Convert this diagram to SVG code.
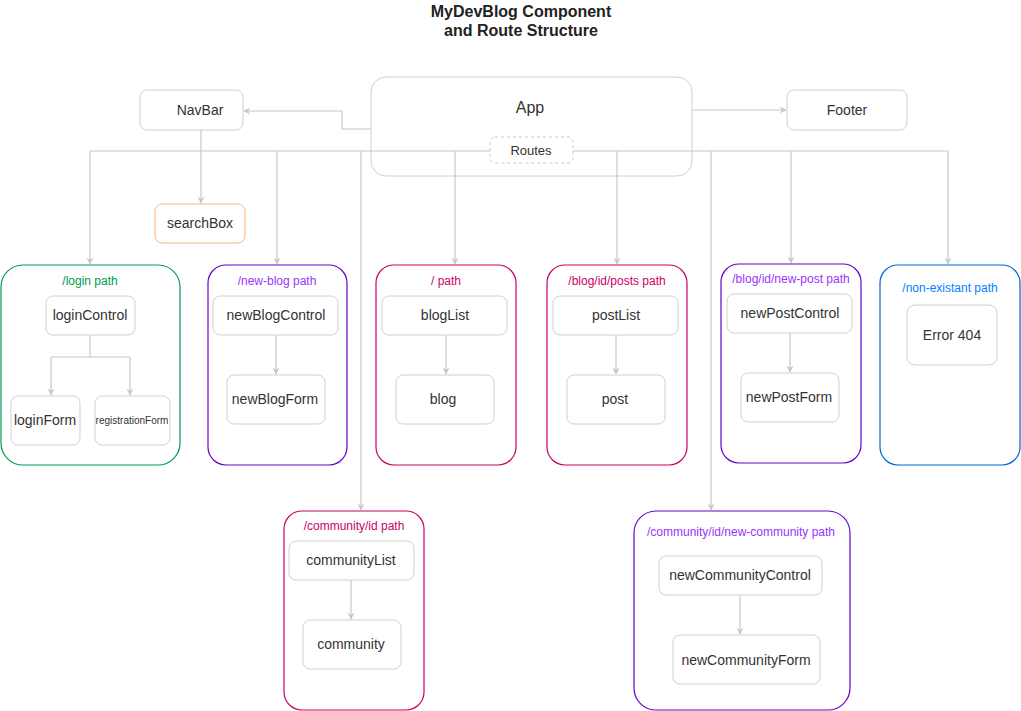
<svg xmlns="http://www.w3.org/2000/svg" width="1021" height="711" viewBox="0 0 1021 711">
<defs>
<marker id="arr" viewBox="0 0 10 10" refX="9" refY="5" markerWidth="7" markerHeight="7" markerUnits="userSpaceOnUse" orient="auto">
<path d="M0,0 L10,5 L0,10 L3,5 z" fill="#c8c8c8"/>
</marker>
<style>
text{font-family:"Liberation Sans",Arial,sans-serif;fill:#333;text-anchor:middle;dominant-baseline:central}
.node{fill:#fff;stroke:#d0d0d0;stroke-width:1}
.n{font-size:14px}
.lbl{font-size:12px}
.title{font-size:16px;font-weight:bold;fill:#222}
.conn{fill:none;stroke:#c8c8c8;stroke-width:1.2}
.arr{marker-end:url(#arr)}
.grp{fill:none;stroke-width:1.2}
</style>
</defs>
<rect width="1021" height="711" fill="#fff"/>
<g id="title">
<text class="title" x="521" y="11">MyDevBlog Component</text>
<text class="title" x="521" y="30">and Route Structure</text>
</g>
<g id="app">
<rect class="node" x="371" y="77" width="321" height="99" rx="15"/>
<text class="n" x="530" y="107" style="font-size:16px">App</text>
</g>
<g id="navbar">
<rect class="node" x="140" y="90" width="103" height="40" rx="7"/>
<text class="n" x="200" y="110">NavBar</text>
</g>
<g id="footer">
<rect class="node" x="787" y="90" width="120" height="40" rx="7"/>
<text class="n" x="847" y="110">Footer</text>
</g>
<g id="searchbox">
<rect x="155" y="204" width="90" height="39" rx="7" fill="#fff" stroke="#ffb570"/>
<text class="n" x="200" y="223">searchBox</text>
</g>
<g id="connectors">
<path class="conn arr" d="M371,129 H342 V111 H244"/>
<path class="conn arr" d="M692,110 H786"/>
<path class="conn" d="M490,151 H90 M573,151 H948"/>
<path class="conn arr" d="M90,151 V264"/>
<path class="conn arr" d="M201,130 V203"/>
<path class="conn arr" d="M277,151 V264"/>
<path class="conn arr" d="M361,151 V510"/>
<path class="conn arr" d="M455,151 V264"/>
<path class="conn arr" d="M617,151 V264"/>
<path class="conn arr" d="M711,151 V510"/>
<path class="conn arr" d="M791,151 V263"/>
<path class="conn arr" d="M948,151 V264"/>
<path class="conn" d="M90,335 V357 H51 M90,357 H130"/>
<path class="conn arr" d="M51,357 V395"/>
<path class="conn arr" d="M130,357 V395"/>
<path class="conn arr" d="M276,335 V374"/>
<path class="conn arr" d="M446,335 V374"/>
<path class="conn arr" d="M616,335 V374"/>
<path class="conn arr" d="M790,333 V372"/>
<path class="conn arr" d="M351,580 V619"/>
<path class="conn arr" d="M740,595 V634"/>
</g>
<g id="routes">
<rect x="490" y="137" width="83" height="26" rx="5" fill="#fff" stroke="#c8c8c8" stroke-dasharray="3,3"/>
<text x="531" y="150" style="font-size:13px">Routes</text>
</g>
<g id="login-path">
<rect class="grp" x="1" y="265" width="179" height="200" rx="22" stroke="#00994d"/>
<text class="lbl" x="90" y="281" style="fill:#00994d">/login path</text>
</g>
<g id="loginControl">
<rect class="node" x="46" y="296" width="89" height="39" rx="7"/>
<text class="n" x="90" y="315">loginControl</text>
</g>
<g id="loginForm">
<rect class="node" x="11" y="396" width="69" height="49" rx="7"/>
<text class="n" x="45" y="420">loginForm</text>
</g>
<g id="registrationForm">
<rect class="node" x="95" y="396" width="75" height="49" rx="7"/>
<text x="132" y="420" style="font-size:10px">registrationForm</text>
</g>
<g id="new-blog-path">
<rect class="grp" x="208" y="265" width="139" height="200" rx="18" stroke="#6600cc"/>
<text class="lbl" x="277" y="281" style="fill:#9933ff">/new-blog path</text>
</g>
<g id="newBlogControl">
<rect class="node" x="213" y="296" width="125" height="39" rx="7"/>
<text class="n" x="276" y="315">newBlogControl</text>
</g>
<g id="newBlogForm">
<rect class="node" x="227" y="375" width="98" height="49" rx="7"/>
<text class="n" x="275" y="399">newBlogForm</text>
</g>
<g id="root-path">
<rect class="grp" x="376" y="265" width="140" height="200" rx="18" stroke="#cc0066"/>
<text class="lbl" x="446" y="281" style="fill:#cc0066">/ path</text>
</g>
<g id="blogList">
<rect class="node" x="382" y="296" width="125" height="39" rx="7"/>
<text class="n" x="445" y="315">blogList</text>
</g>
<g id="blog">
<rect class="node" x="396" y="375" width="98" height="49" rx="7"/>
<text class="n" x="443" y="399">blog</text>
</g>
<g id="posts-path">
<rect class="grp" x="547" y="265" width="140" height="200" rx="18" stroke="#cc0066"/>
<text class="lbl" x="617" y="281" style="fill:#cc0066">/blog/id/posts path</text>
</g>
<g id="postList">
<rect class="node" x="553" y="296" width="125" height="39" rx="7"/>
<text class="n" x="616" y="315">postList</text>
</g>
<g id="post">
<rect class="node" x="567" y="375" width="98" height="49" rx="7"/>
<text class="n" x="615" y="399">post</text>
</g>
<g id="new-post-path">
<rect class="grp" x="721" y="264" width="140" height="199" rx="18" stroke="#6600cc"/>
<text class="lbl" x="791" y="279" style="fill:#9933ff">/blog/id/new-post path</text>
</g>
<g id="newPostControl">
<rect class="node" x="727" y="294" width="125" height="39" rx="7"/>
<text class="n" x="790" y="313">newPostControl</text>
</g>
<g id="newPostForm">
<rect class="node" x="741" y="373" width="98" height="49" rx="7"/>
<text class="n" x="789" y="397">newPostForm</text>
</g>
<g id="non-existant-path">
<rect class="grp" x="880" y="265" width="140" height="200" rx="18" stroke="#0066cc"/>
<text class="lbl" x="950" y="288" style="fill:#007fff">/non-existant path</text>
</g>
<g id="error404">
<rect class="node" x="907" y="305" width="90" height="60" rx="8"/>
<text class="n" x="952" y="335">Error 404</text>
</g>
<g id="community-path">
<rect class="grp" x="284" y="511" width="140" height="199" rx="18" stroke="#cc0066"/>
<text class="lbl" x="354" y="526" style="fill:#cc0066">/community/id path</text>
</g>
<g id="communityList">
<rect class="node" x="289" y="541" width="125" height="39" rx="7"/>
<text class="n" x="351" y="560">communityList</text>
</g>
<g id="community">
<rect class="node" x="303" y="620" width="98" height="49" rx="7"/>
<text class="n" x="351" y="644">community</text>
</g>
<g id="new-community-path">
<rect class="grp" x="634" y="511" width="216" height="199" rx="22" stroke="#6600cc"/>
<text class="lbl" x="741" y="532" style="fill:#9933ff">/community/id/new-community path</text>
</g>
<g id="newCommunityControl">
<rect class="node" x="659" y="556" width="163" height="39" rx="7"/>
<text class="n" x="740" y="575">newCommunityControl</text>
</g>
<g id="newCommunityForm">
<rect class="node" x="673" y="635" width="147" height="49" rx="7"/>
<text class="n" x="746" y="660">newCommunityForm</text>
</g>
</svg>
